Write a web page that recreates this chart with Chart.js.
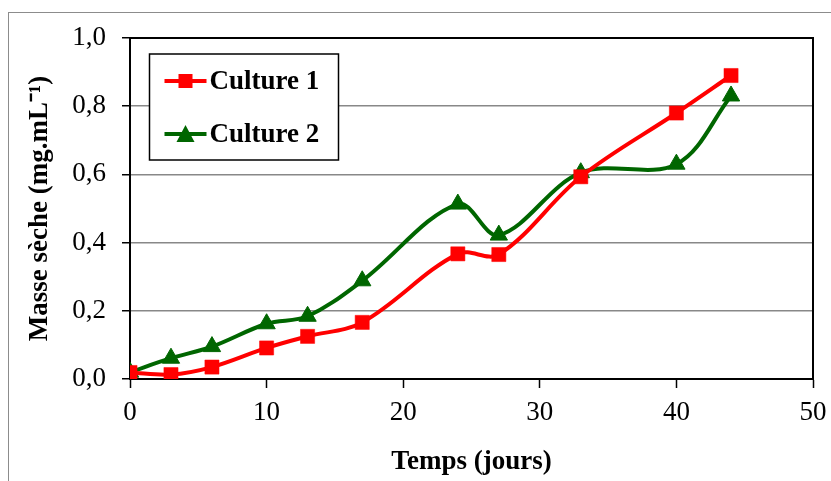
<!DOCTYPE html>
<html>
<head>
  <title>Masse sèche</title>
  <script src="https://cdn.jsdelivr.net/npm/chart.js"></script>
  <style>
    html, body { margin: 0; padding: 0; background: #fff; }
    #wrap { width: 831px; height: 481px; }
  </style>
</head>
<body>
  <div id="wrap"><canvas id="massChart" width="831" height="481"></canvas></div>

  <script>
    // values
    const days = [0, 3, 6, 10, 13, 17, 24, 27, 33, 40, 44];
    const culture1 = [0.019, 0.013, 0.035, 0.091, 0.125, 0.166, 0.367, 0.365, 0.593, 0.78, 0.89];
    const culture2 = [0.02, 0.061, 0.095, 0.162, 0.184, 0.288, 0.513, 0.422, 0.605, 0.63, 0.83];
    const xTicks = [0, 10, 20, 30, 40, 50];
    const yTicks = [0, 0.2, 0.4, 0.6, 0.8, 1.0];

    const serif = '"Liberation Serif", "Times New Roman", serif';

    function toPoints(ys) {
      return days.map((d, i) => ({ x: d, y: ys[i] }));
    }

    // gray outer frame + black plot border
    const frames = {
      id: 'frames',
      beforeDraw(chart) {
        const ctx = chart.ctx;
        ctx.save();
        ctx.strokeStyle = '#8c8c8c';
        ctx.lineWidth = 1;
        ctx.strokeRect(8.5, 12.5, 900, 600);
        ctx.restore();
      },
      beforeDatasetsDraw(chart) {
        const ctx = chart.ctx, a = chart.chartArea;
        ctx.save();
        ctx.strokeStyle = '#000';
        ctx.lineWidth = 2;
        ctx.strokeRect(a.left, a.top, a.right - a.left, a.bottom - a.top);
        ctx.restore();
      }
    };

    // legend box sitting inside the plot area
    const boxLegend = {
      id: 'boxLegend',
      afterDatasetsDraw(chart) {
        const ctx = chart.ctx, a = chart.chartArea;
        const x = a.left + 19.5, y = a.top + 16, w = 189, h = 106;
        ctx.save();
        ctx.fillStyle = '#fff';
        ctx.fillRect(x, y, w, h);
        ctx.strokeStyle = '#000';
        ctx.lineWidth = 1.5;
        ctx.strokeRect(x, y, w, h);
        chart.data.datasets.forEach((ds, i) => {
          const ry = y + 27 + i * 53;
          const mx = x + 36;
          ctx.strokeStyle = ds.borderColor;
          ctx.lineWidth = 4;
          ctx.beginPath();
          ctx.moveTo(x + 15, ry);
          ctx.lineTo(x + 57, ry);
          ctx.stroke();
          ctx.fillStyle = ds.pointBackgroundColor;
          if (ds.pointStyle === 'rect') {
            ctx.fillRect(mx - 7, ry - 7, 14, 14);
          } else {
            ctx.beginPath();
            ctx.moveTo(mx, ry - 9);
            ctx.lineTo(mx + 9, ry + 8);
            ctx.lineTo(mx - 9, ry + 8);
            ctx.closePath();
            ctx.fill();
          }
          ctx.fillStyle = '#000';
          ctx.font = 'bold 27px ' + serif;
          ctx.textBaseline = 'middle';
          ctx.fillText(ds.label, x + 60, ry + 1);
        });
        ctx.restore();
      }
    };

    const ctx = document.getElementById('massChart').getContext('2d');

    new Chart(ctx, {
      type: 'line',
      data: {
        datasets: [
          {
            label: 'Culture 1',
            data: toPoints(culture1),
            borderColor: '#ff0000',
            backgroundColor: '#ff0000',
            pointBackgroundColor: '#ff0000',
            pointBorderColor: '#ff0000',
            pointStyle: 'rect',
            pointRadius: 10,
            pointBorderWidth: 0.5,
            borderWidth: 4,
            tension: 0.35,
            fill: false
          },
          {
            label: 'Culture 2',
            data: toPoints(culture2),
            borderColor: '#006600',
            backgroundColor: '#006600',
            pointBackgroundColor: '#006600',
            pointBorderColor: '#006600',
            pointStyle: 'triangle',
            pointRadius: 10,
            pointBorderWidth: 1,
            borderWidth: 4,
            tension: 0.35,
            fill: false
          }
        ]
      },
      options: {
        responsive: false,
        animation: false,
        devicePixelRatio: 1,
        layout: { padding: { left: 0, right: 18, top: 38, bottom: 0 } },
        plugins: {
          legend: { display: false },
          tooltip: { enabled: false }
        },
        scales: {
          x: {
            type: 'linear',
            min: 0,
            max: 50,
            afterBuildTicks: s => { s.ticks = xTicks.map(v => ({ value: v })); },
            afterFit: s => { s.height = 102; s.paddingLeft = 0; s.paddingRight = 0; },
            grid: { drawOnChartArea: false, drawTicks: true, tickLength: 9, tickColor: '#000', tickWidth: 1.5 },
            border: { color: '#000', width: 2 },
            ticks: { color: '#000', padding: 9, font: { family: serif, size: 27 }, maxRotation: 0 },
            title: {
              display: true,
              text: 'Temps (jours)',
              color: '#000',
              font: { family: serif, size: 27, weight: 'bold' },
              padding: { top: 0, bottom: 3 }
            }
          },
          y: {
            min: 0,
            max: 1,
            afterBuildTicks: s => { s.ticks = yTicks.map(v => ({ value: v })); },
            afterFit: s => { s.width = 130; },
            grid: { color: '#888888', lineWidth: 1.5, drawTicks: true, tickLength: 8, tickColor: '#000', tickWidth: 1.5 },
            border: { color: '#000', width: 2 },
            ticks: {
              color: '#000',
              padding: 16,
              font: { family: serif, size: 27 },
              callback: v => v.toFixed(1).replace('.', ',')
            },
            title: {
              display: true,
              text: 'Masse sèche (mg.mL\u207B\u00B9)',
              color: '#000',
              font: { family: serif, size: 27, weight: 'bold' },
              padding: { top: 24, bottom: 0 }
            }
          }
        }
      },
      plugins: [frames, boxLegend]
    });
  </script>
</body>
</html>
